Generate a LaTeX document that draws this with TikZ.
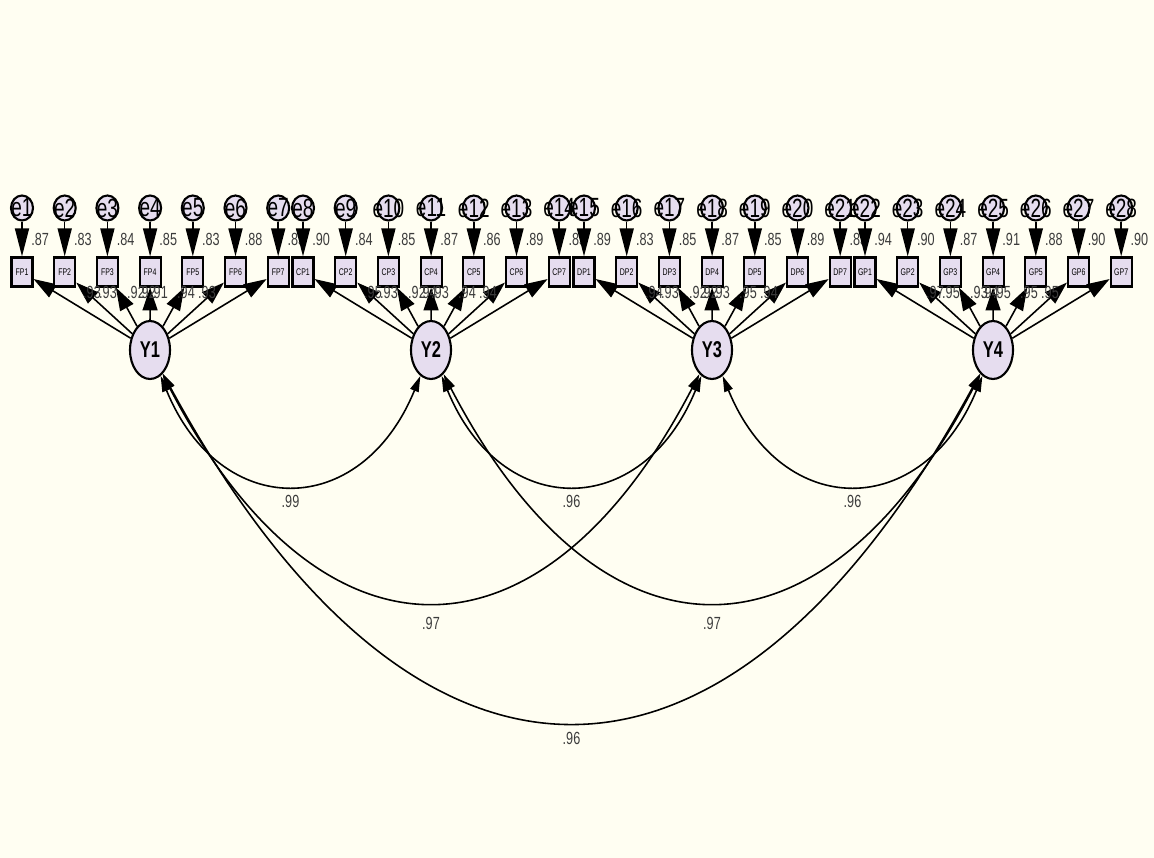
\documentclass[tikz,border=0pt]{standalone}
\usepackage{fontspec}
\setmainfont{Liberation Sans}
\newfontfamily\amosfont[FakeStretch=0.72]{Liberation Sans}
\usetikzlibrary{shapes.geometric, arrows.meta, positioning, calc}
\definecolor{paper}{HTML}{FFFEF2}
\definecolor{lav}{HTML}{E6DDEF}
\definecolor{valgray}{HTML}{3C3C3C}

\tikzset{
  latent/.style={draw, ellipse, line width=1.2pt, fill=lav, minimum width=0.8cm, minimum height=1.16cm, inner sep=0pt, font=\amosfont\bfseries\fontsize{13}{13}\selectfont},
  errc/.style={draw, ellipse, line width=1.2pt, fill=lav, minimum width=0.44cm, minimum height=0.5cm, inner sep=0pt},
  elabel/.style={inner sep=0pt, font=\amosfont\fontsize{15}{15}\selectfont},
  obs/.style={draw, rectangle, line width=1.2pt, fill=lav, minimum width=0.42cm, minimum height=0.58cm, inner sep=0pt, font=\amosfont\fontsize{5.5}{6}\selectfont},
  val/.style={inner sep=0pt, text=valgray, font=\amosfont\fontsize{10}{10}\selectfont},
  load/.style={-{Triangle[length=13pt, width=8.5pt]}, line width=0.9pt},
  erra/.style={-{Triangle[length=16pt, width=8pt]}, line width=0.9pt},
  cov/.style={{Triangle[length=9pt, width=5pt]}-{Triangle[length=9pt, width=5pt]}, line width=0.9pt},
}

\begin{document}
\begin{tikzpicture}[x=0.02cm, y=-0.02cm]
    \fill[paper] (0,0) rectangle (1154,858);
    \useasboundingbox (0,0) rectangle (1154,858);

    % four factors, seven indicators each
    \foreach \pre/\rsq/\lds [count=\g] in {
        FP/{.87,.83,.84,.85,.83,.88,.85}/{.93,.93,.92,.92,.91,.94,.93},
        CP/{.90,.84,.85,.87,.86,.89,.85}/{.95,.93,.92,.94,.93,.94,.94},
        DP/{.89,.83,.85,.87,.85,.89,.83}/{.94,.93,.92,.92,.93,.95,.94},
        GP/{.94,.90,.87,.91,.88,.90,.90}/{.97,.95,.93,.94,.95,.95,.95}}
    {
        \pgfmathsetmacro\gx{22+281*(\g-1)}
        \node[latent] (Y\g) at (\gx+128,350) {Y\g};
        \foreach \r [count=\j] in \rsq {
            \pgfmathsetmacro\ix{\gx+42.7*(\j-1)}
            \pgfmathtruncatemacro\ei{7*(\g-1)+\j}
            \node[obs] (\pre\j) at (\ix,272) {\pre\j};
            \node[errc] (e\ei) at (\ix,208) {};
            \node[elabel] (t\ei) at (e\ei) {e\ei};
            \node[val, anchor=west] (r\ei) at (\ix+9,239) {\r};
            \draw[erra] (e\ei) -- (\pre\j);
            \draw[load] (Y\g) -- (\pre\j);
        }
        \foreach \v [count=\k] in \lds {
            \pgfmathsetmacro\dx{{-58,-42,-14,-3,9,36,57}[\k-1]}
            \node[val] (l\g\k) at (\gx+128+\dx,292) {\v};
        }
    }

    % correlations between factors
    \draw[cov] (Y1) .. controls +(70,171) and +(-70,171) .. node[val, below=0.2cm] (c12) {.99} (Y2);
    \draw[cov] (Y2) .. controls +(70,171) and +(-70,171) .. node[val, below=0.2cm] (c23) {.96} (Y3);
    \draw[cov] (Y3) .. controls +(70,171) and +(-70,171) .. node[val, below=0.2cm] (c34) {.96} (Y4);
    \draw[cov] (Y1) .. controls +(170,327) and +(-170,327) .. node[val, below=0.3cm] (c13) {.97} (Y3);
    \draw[cov] (Y2) .. controls +(170,327) and +(-170,327) .. node[val, below=0.3cm] (c24) {.97} (Y4);
    \draw[cov] (Y1) .. controls +(265,487) and +(-265,487) .. node[val, below=0.2cm] (c14) {.96} (Y4);
\end{tikzpicture}
\end{document}
